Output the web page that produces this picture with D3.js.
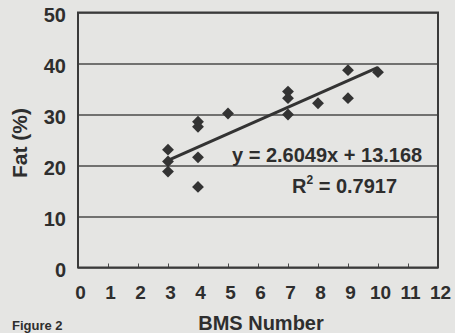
<!DOCTYPE html>
<html>
<head>
<meta charset="utf-8">
<script src="https://cdn.jsdelivr.net/npm/d3@7"></script>
<style>
  body { margin: 0; background: #e5e5e3; }
  svg { display: block; }
  text { font-family: "Liberation Sans", Arial, sans-serif; font-weight: bold; fill: #2e2e2e; }
</style>
</head>
<body>
<div id="chart"></div>
<script>
const w = 455;
const h = 333;

// BMS score and fat %
const bms = [3, 3, 3, 4, 4, 4, 4, 5, 7, 7, 7, 8, 9, 9, 10];
const fat = [23.1, 20.8, 18.8, 28.6, 27.6, 21.6, 15.8, 30.2, 34.5, 33.2, 30.0, 32.2, 38.7, 33.2, 38.3];
const xTicks = [0, 1, 2, 3, 4, 5, 6, 7, 8, 9, 10, 11, 12];
const yTicks = [0, 10, 20, 30, 40, 50];
const slope = 2.6049;
const intercept = 13.168;
const r2 = "0.7917";

const svg = d3.select("#chart")
              .append("svg")
              .attr("width", w)
              .attr("height", h);

const xScale = d3.scaleLinear().domain([0, 12]).range([78, 438]);
const yScale = d3.scaleLinear().domain([0, 50]).range([267.5, 12.5]);

// gridlines + y labels
const yAxis = d3.axisLeft(yScale)
                .tickValues(yTicks)
                .tickSizeInner(-(xScale.range()[1] - xScale.range()[0]))
                .tickSizeOuter(0)
                .tickPadding(12);
const gy = svg.append("g")
              .attr("transform", `translate(${xScale(0)}, 0)`)
              .call(yAxis);
gy.select(".domain").remove();
gy.selectAll("line").attr("stroke", "#4a4a4a").attr("stroke-width", 1.4);
gy.selectAll("text")
  .attr("dy", "0.45em")
  .style("font-size", "20px");

// x axis, small ticks pointing up
const xAxis = d3.axisBottom(xScale)
                .tickValues(xTicks)
                .tickSizeInner(-4)
                .tickSizeOuter(0)
                .tickPadding(18);
const gx = svg.append("g")
              .attr("transform", `translate(0, ${yScale(0)})`)
              .call(xAxis);
gx.select(".domain").remove();
gx.selectAll("line").attr("stroke", "#4a4a4a").attr("stroke-width", 1);
gx.selectAll("text")
  .attr("x", 2)
  .attr("dy", "0.7em")
  .style("font-size", "19px");

// frame
svg.append("rect")
   .attr("x", xScale(0))
   .attr("y", yScale(50))
   .attr("width", xScale(12) - xScale(0))
   .attr("height", yScale(0) - yScale(50))
   .attr("fill", "none")
   .attr("stroke", "#3a3a3a")
   .attr("stroke-width", 2);

// trend line between the extreme x values
const xExt = d3.extent(bms);
svg.append("line")
   .attr("x1", xScale(xExt[0]))
   .attr("y1", yScale(slope * xExt[0] + intercept))
   .attr("x2", xScale(xExt[1]))
   .attr("y2", yScale(slope * xExt[1] + intercept))
   .attr("stroke", "#333")
   .attr("stroke-width", 3);

// diamond markers
const diamond = d3.symbol().type(d3.symbolSquare).size(70);
svg.selectAll("path.pt")
   .data(bms)
   .enter()
   .append("path")
   .attr("class", "pt")
   .attr("d", diamond)
   .attr("transform", (d, i) => `translate(${xScale(d)}, ${yScale(fat[i])}) rotate(45)`)
   .attr("fill", "#333");

// equation + r squared
svg.append("text")
   .attr("x", 232)
   .attr("y", 162)
   .style("font-size", "20px")
   .text(`y = ${slope}x + ${intercept}`);

const rt = svg.append("text")
   .attr("x", 292)
   .attr("y", 193)
   .style("font-size", "20px");
rt.append("tspan").text("R");
rt.append("tspan").attr("dy", -9).style("font-size", "12px").text("2");
rt.append("tspan").attr("dy", 9).text(` = ${r2}`);

// axis titles
svg.append("text")
   .attr("transform", "translate(27, 143) rotate(-90)")
   .attr("text-anchor", "middle")
   .style("font-size", "21px")
   .text("Fat (%)");

svg.append("text")
   .attr("x", 261)
   .attr("y", 330)
   .attr("text-anchor", "middle")
   .style("font-size", "20px")
   .text("BMS Number");

// caption at the bottom edge of the scan
svg.append("text")
   .attr("x", 12)
   .attr("y", 330)
   .style("font-size", "13px")
   .text("Figure 2");
</script>
</body>
</html>
